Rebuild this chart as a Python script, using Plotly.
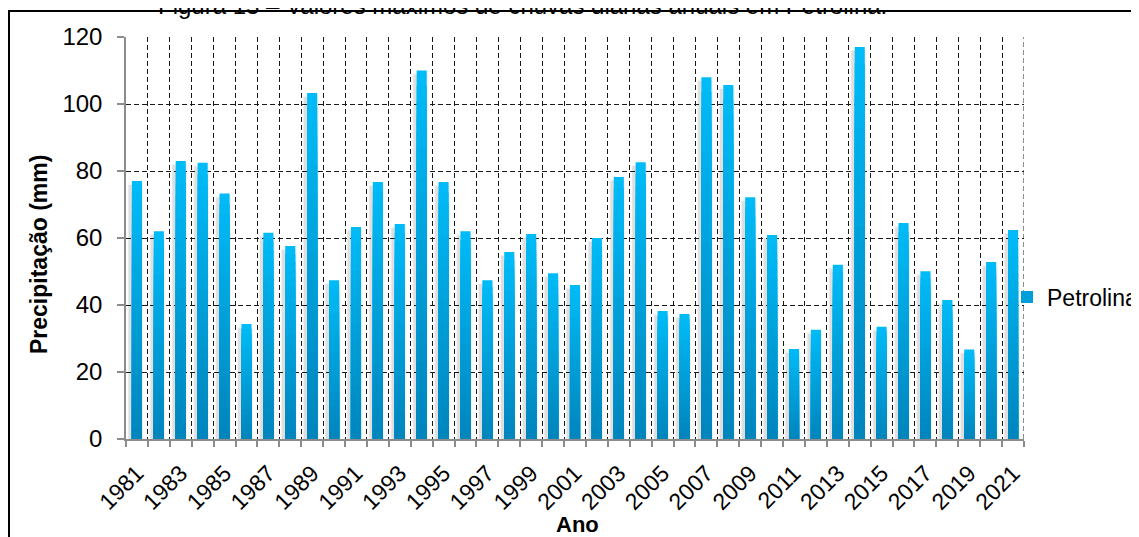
import plotly.graph_objects as go

years = list(range(1981, 2022))
precip = [77.0, 62.0, 83.0, 82.5, 73.3, 34.3, 61.6, 57.6, 103.3, 47.4,
          63.3, 76.7, 64.2, 110.0, 76.7, 62.0, 47.4, 55.8, 61.2, 49.5,
          46.0, 60.0, 78.2, 82.6, 38.2, 37.3, 108.0, 105.7, 72.2, 60.9,
          26.9, 32.6, 52.0, 117.0, 33.5, 64.5, 50.1, 41.5, 26.7, 52.8, 62.4]
tick_years = list(range(1981, 2022, 2))
series_name = "Petrolina"
title_text = "Figura 13 – Valores máximos de chuvas diárias anuais em Petrolina."
y_title = "Precipitação (mm)"
x_title = "Ano"

FONT = "Arial, Liberation Sans, sans-serif"
top_rgb = (0, 188, 248)
bot_rgb = (0, 132, 188)

# page offset (browser body margin) = 8px
OFF = 8
PL, PR, PT, PB = 126 - OFF, 1024 - OFF, 37 - OFF, 439 - OFF  # plot box in figure px
W, H = 1139, 537
PW, PH = PR - PL, PB - PT

fig = go.Figure()

# soft shadow behind bars
fig.add_trace(go.Bar(x=years, y=[v - 0.8 for v in precip], width=0.72, offset=-0.42,
                     marker=dict(color="rgba(0,0,0,0.05)", line=dict(width=0)),
                     showlegend=False, hoverinfo="skip"))
fig.add_trace(go.Bar(x=years, y=[v - 1.2 for v in precip], width=0.56, offset=-0.38,
                     marker=dict(color="rgba(0,0,0,0.08)", line=dict(width=0)),
                     showlegend=False, hoverinfo="skip"))

N = 24
for k in range(N):
    frac = (N - k) / N
    t = (N - k - 0.5) / N
    c = tuple(round(b + t * (a - b)) for a, b in zip(top_rgb, bot_rgb))
    fig.add_trace(go.Bar(
        x=years, y=[v * frac for v in precip], width=0.46,
        marker=dict(color=f"rgb{c}", line=dict(width=0)),
        name=series_name, showlegend=(k == N // 2), hoverinfo="skip"))

fig.update_layout(
    width=W, height=H,
    margin=dict(l=PL, r=W - PR, t=PT, b=H - PB, autoexpand=False),
    paper_bgcolor="white", plot_bgcolor="white",
    barmode="overlay",
    font=dict(family=FONT, size=24, color="black"),
    legend=dict(xref="container", yref="container",
                x=(1007 - OFF) / W, y=1 - (297 - OFF) / H, xanchor="left", yanchor="middle",
                font=dict(size=23), itemwidth=30, tracegroupgap=0,
                bgcolor="rgba(0,0,0,0)"),
    xaxis=dict(
        range=[1980.5, 2021.5], tickmode="array", tickvals=tick_years,
        ticktext=[str(y) for y in tick_years], tickangle=-45,
        showgrid=False, ticks="", showline=True, linecolor="#8c8c8c", linewidth=1.5,
        tickfont=dict(size=23), ticklabelstandoff=10, automargin=False,
        minor=dict(tick0=1980.5, dtick=1, showgrid=True, gridcolor="#1a1a1a",
                   griddash="5px,3px", gridwidth=1, ticks="outside", ticklen=6,
                   tickcolor="#8c8c8c", tickwidth=1.5),
        zeroline=False,
    ),
    yaxis=dict(
        range=[0, 120], dtick=20, showgrid=True, gridcolor="#1a1a1a",
        griddash="5px,3px", gridwidth=1, ticks="outside", ticklen=7,
        tickcolor="#8c8c8c", tickwidth=1.5, showline=True, linecolor="#8c8c8c",
        linewidth=1.5, zeroline=False, tickfont=dict(size=24),
        ticklabelstandoff=10, automargin=False,
    ),
)

# axis titles
fig.add_annotation(text=f"<b>{y_title}</b>", xref="paper", yref="paper",
                   x=(39 - 126) / PW, y=(439 - 255) / PH, textangle=-90,
                   xanchor="center", yanchor="middle", showarrow=False,
                   font=dict(size=23, family=FONT, color="black"))
fig.add_annotation(text=f"<b>{x_title}</b>", xref="paper", yref="paper",
                   x=(577 - 126) / PW, y=(439 - 524) / PH,
                   xanchor="center", yanchor="middle", showarrow=False,
                   font=dict(size=22, family=FONT, color="black"))

# right plot edge dashed line (category boundary)
fig.add_shape(type="line", xref="x", yref="paper", x0=2021.5, x1=2021.5, y0=0, y1=1,
              line=dict(color="#1a1a1a", width=1, dash="5px,3px"), layer="below")

# outer frame (partially visible)
fig.add_shape(type="rect", xref="paper", yref="paper",
              x0=(1 - PL) / PW, x1=(W + 30 - PL) / PW,
              y0=-(H + 30 - PB) / PH, y1=1 + (PT - 3) / PH,
              line=dict(color="black", width=2), fillcolor="rgba(0,0,0,0)")

fig.add_annotation(text=title_text, xref="paper", yref="paper",
                   x=(522 - 126) / PW, y=1 + (37 - 21) / PH,
                   xanchor="center", yanchor="bottom", showarrow=False,
                   font=dict(size=24, family=FONT, color="black"))

fig.write_html("out.html")
